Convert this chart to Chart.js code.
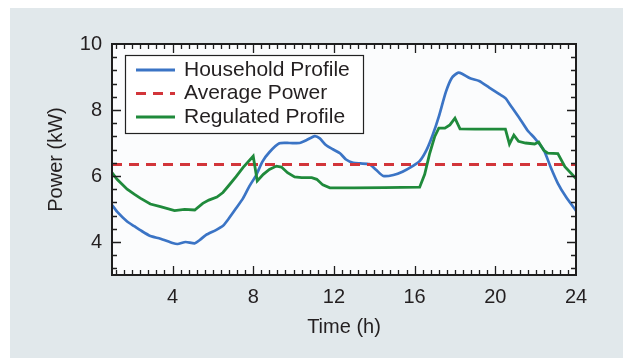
<!DOCTYPE html>
<html>
<head>
<meta charset="utf-8">
<script src="https://cdn.jsdelivr.net/npm/chart.js@4"></script>
<style>
html,body{margin:0;padding:0;background:#ffffff;}
canvas{display:block;}
</style>
</head>
<body>
<canvas id="c" width="623" height="358"></canvas>
<script>
// ---- data ----
const householdHours = [1,1.25,1.75,2.1,2.4,2.9,3.4,4.0,4.25,4.65,5.1,5.35,5.65,6.15,6.5,6.8,7.15,7.5,7.8,8.15,8.45,8.8,9.3,9.8,10.3,10.65,11.05,11.3,11.6,11.95,12.3,12.6,12.95,13.3,13.75,14.1,14.45,14.95,15.4,15.9,16.25,16.6,16.9,17.2,17.55,17.85,18.15,18.35,18.75,19.2,19.7,20.2,20.5,20.8,21.2,21.6,21.95,22.4,22.75,23.1,23.5,24];
const householdPower = [5.12,4.92,4.62,4.48,4.36,4.18,4.1,3.97,3.94,4.0,3.96,4.06,4.21,4.36,4.49,4.72,5.02,5.33,5.68,6.03,6.43,6.72,6.99,7.0,7.0,7.09,7.21,7.14,6.94,6.81,6.69,6.5,6.4,6.38,6.36,6.18,6.0,6.03,6.13,6.3,6.45,6.8,7.25,7.8,8.55,8.98,9.13,9.1,8.96,8.88,8.68,8.48,8.36,8.1,7.75,7.38,7.15,6.79,6.26,5.78,5.37,4.95];

const regulatedHours = [1,1.25,1.75,2.1,2.4,2.9,3.4,4.1,4.6,5.1,5.5,5.8,6.2,6.5,6.8,7.15,7.5,8.0,8.2,8.5,8.8,9.15,9.4,9.7,10.05,10.4,10.9,11.15,11.45,11.8,13,14.5,16.25,16.5,16.75,17.0,17.2,17.5,17.75,18.0,18.25,19.0,20.5,20.7,20.92,21.15,21.5,21.95,22.15,22.4,22.6,23.1,23.45,24];
const regulatedPower = [6.1,5.9,5.6,5.45,5.33,5.15,5.07,4.95,4.99,4.97,5.17,5.27,5.36,5.5,5.72,5.98,6.26,6.6,5.85,6.05,6.2,6.3,6.27,6.1,5.97,5.95,5.95,5.9,5.73,5.64,5.64,5.65,5.66,6.05,6.69,7.2,7.45,7.45,7.55,7.75,7.43,7.42,7.42,6.97,7.24,7.05,7.0,6.97,7.03,6.78,6.69,6.68,6.28,5.92];

const averageHours = [1,24];
const averagePower = [6.35,6.35];

const xTickValues = [4,8,12,16,20,24];
const yTickValues = [4,6,8,10];
const seriesLabels = ['Household Profile','Average Power','Regulated Profile'];
// --------------------------------------

const FONT = "'Liberation Sans', Arial, Helvetica, sans-serif";
const TEXT = '#231f20';
const pts = (hs, vs) => hs.map((h,i)=>({x:h,y:vs[i]}));

const frame = {
  id:'frame',
  beforeDraw(chart){
    const {ctx,width,height,chartArea:a} = chart;
    ctx.save();
    ctx.fillStyle='#ffffff'; ctx.fillRect(0,0,width,height);
    ctx.fillStyle='#e1e8eb'; ctx.fillRect(10,8,width-10,height-8);
    ctx.fillStyle='#fbfcfd'; ctx.fillRect(a.left,a.top,a.right-a.left,a.bottom-a.top);
    ctx.restore();
  },
  afterDraw(chart){
    const {ctx,chartArea:a,scales:{x,y}} = chart;
    ctx.save();
    ctx.strokeStyle='#1e1e1e';
    ctx.lineWidth=1.3;
    ctx.beginPath();
    for(let k=Math.ceil(x.min/0.4+1e-9); k*0.4 < x.max-1e-9; k++){
      const v=k*0.4;
      const major=Math.abs(v/4-Math.round(v/4))<1e-6;
      const len=major?9:5;
      const px=Math.round(x.getPixelForValue(v))+0.5;
      ctx.moveTo(px,a.bottom); ctx.lineTo(px,a.bottom-len);
      ctx.moveTo(px,a.top); ctx.lineTo(px,a.top+len);
    }
    for(let k=Math.ceil(y.min/0.4+1e-9); k*0.4 < y.max-1e-9; k++){
      const v=k*0.4;
      const major=Math.abs(v/2-Math.round(v/2))<1e-6;
      const len=major?9:5;
      const py=Math.round(y.getPixelForValue(v))+0.5;
      ctx.moveTo(a.left,py); ctx.lineTo(a.left+len,py);
      ctx.moveTo(a.right,py); ctx.lineTo(a.right-len,py);
    }
    ctx.stroke();
    ctx.lineWidth=2;
    ctx.strokeRect(a.left,a.top,a.right-a.left,a.bottom-a.top);

    // legend
    const lx=a.left+13, ly=a.top+11, lw=238, lh=78;
    ctx.fillStyle='#ffffff';
    ctx.fillRect(lx,ly,lw,lh);
    ctx.lineWidth=1.2; ctx.strokeStyle='#222';
    ctx.strokeRect(lx+0.5,ly+0.5,lw,lh);
    chart.data.datasets.forEach((ds,i)=>{
      const cy=ly+15+i*23.5;
      ctx.beginPath();
      ctx.strokeStyle=ds.borderColor;
      ctx.lineWidth=3;
      ctx.setLineDash(ds.borderDash||[]);
      ctx.moveTo(lx+11,cy); ctx.lineTo(lx+50,cy);
      ctx.stroke();
      ctx.setLineDash([]);
      ctx.fillStyle=TEXT;
      ctx.font='21px '+FONT;
      ctx.textBaseline='middle';
      ctx.fillText(ds.label,lx+59,cy);
    });
    ctx.restore();
  }
};

new Chart(document.getElementById('c'),{
  type:'line',
  data:{datasets:[
    {label:seriesLabels[0],data:pts(householdHours,householdPower),borderColor:'#3b74c5',borderWidth:2.7,pointRadius:0,tension:0.2,order:2},
    {label:seriesLabels[1],data:pts(averageHours,averagePower),borderColor:'#d2353a',borderWidth:3,borderDash:[10,7],pointRadius:0,order:1},
    {label:seriesLabels[2],data:pts(regulatedHours,regulatedPower),borderColor:'#1f8a3b',borderWidth:2.8,pointRadius:0,tension:0,order:0}
  ]},
  options:{
    responsive:false,animation:false,devicePixelRatio:1,
    layout:{padding:{left:0,top:44,right:47,bottom:0}},
    plugins:{legend:{display:false},tooltip:{enabled:false}},
    scales:{
      x:{type:'linear',min:1,max:24,
        afterBuildTicks:s=>{s.ticks=xTickValues.map(v=>({value:v}));},
        afterFit:s=>{s.height=83;},
        grid:{display:false,drawTicks:false},border:{display:false},
        ticks:{padding:10,font:{size:20,family:FONT},color:TEXT,maxRotation:0,autoSkip:false},
        title:{display:true,text:'Time (h)',font:{size:20,family:FONT},color:TEXT,padding:19}},
      y:{type:'linear',min:3,max:10,
        afterBuildTicks:s=>{s.ticks=yTickValues.map(v=>({value:v}));},
        afterFit:s=>{s.width=112;},
        grid:{display:false,drawTicks:false},border:{display:false},
        ticks:{padding:10,font:{size:20,family:FONT},color:TEXT,autoSkip:false},
        title:{display:true,text:'Power (kW)',font:{size:20,family:FONT},color:TEXT,padding:44}}
    }
  },
  plugins:[frame]
});
</script>
</body>
</html>
